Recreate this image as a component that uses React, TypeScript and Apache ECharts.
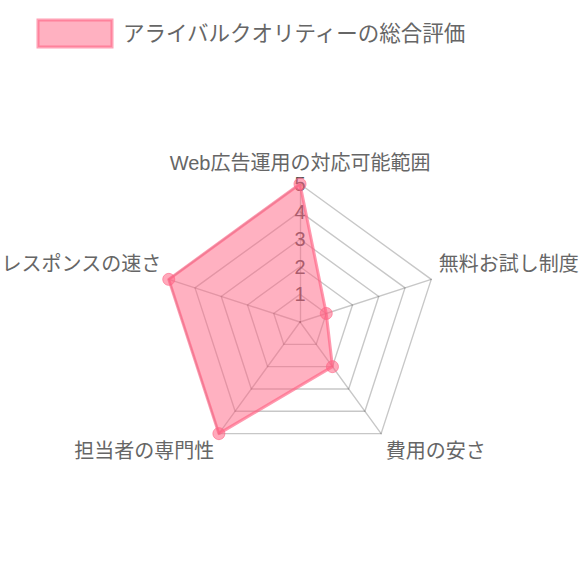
import React, { useEffect, useRef } from "react";
import * as echarts from "echarts";

const seriesName = "アライバルクオリティーの総合評価";
// counter-clockwise order starting from top (ECharts radar layout)
const indicators = [
  "Web広告運用の対応可能範囲",
  "レスポンスの速さ",
  "担当者の専門性",
  "費用の安さ",
  "無料お試し制度",
];
const values = [5, 5, 5, 2, 1];
const maxValue = 5;
const tickCount = 5;

const FONT = "'Liberation Sans', 'Noto Sans CJK JP', sans-serif";

export default function App() {
  const ref = useRef<HTMLDivElement>(null);
  useEffect(() => {
    document.body.style.margin = "0";
    if (!ref.current) return;
    const chart = echarts.init(ref.current, undefined, { renderer: "svg" });
    const styleFor = (name: string) => {
      const i = indicators.indexOf(name);
      if (i === 0) return "top";
      if (i === 1 || i === 4) return "side";
      return "bottom";
    };
    const tickLabel = {
      show: true,
      showMinLabel: false,
      hideOverlap: false,
      margin: 0,
      align: "center",
      verticalAlign: "middle",
      fontSize: 20,
      color: "#555",
      fontFamily: FONT,
      formatter: (v: number) => (v === 0 ? "" : String(v)),
    };
    chart.setOption({
      animation: false,
      textStyle: { fontFamily: FONT },
      legend: {
        data: [seriesName],
        selectedMode: false,
        left: 36.5,
        top: 18.5,
        padding: 0,
        icon: "rect",
        itemWidth: 74,
        itemHeight: 27,
        itemStyle: {
          color: "rgba(255,99,132,0.5)",
          borderColor: "rgba(255,99,132,0.6)",
          borderWidth: 3,
        },
        textStyle: {
          fontSize: 21.5,
          color: "#666",
          fontFamily: FONT,
          padding: [0, 0, 0, 6],
        },
      },
      radar: {
        center: [300, 322],
        radius: 138,
        splitNumber: tickCount,
        nameGap: 8,
        shape: "polygon",
        indicator: indicators.map((name, i) =>
          i === 0
            ? { name, max: maxValue, min: 0, axisLabel: tickLabel }
            : { name, max: maxValue, min: 0 }
        ),
        axisName: {
          color: "#666",
          fontSize: 20,
          fontFamily: FONT,
          formatter: (name: string) => `{${styleFor(name)}|${name}}`,
          rich: {
            top: { fontSize: 20, color: "#666", fontFamily: FONT, padding: [0, 0, 3, 0] },
            side: { fontSize: 20, color: "#666", fontFamily: FONT, padding: [0, 0, 26, 0] },
            bottom: { fontSize: 20, color: "#666", fontFamily: FONT, padding: [22, 0, 0, 0] },
          },
        },
        axisLine: { lineStyle: { color: "rgba(0,0,0,0.22)", width: 1.4 } },
        splitLine: { lineStyle: { color: "rgba(0,0,0,0.22)", width: 1.4 } },
        splitArea: { show: false },
        axisTick: { show: false },
        axisLabel: { ...tickLabel, show: false },
      },
      series: [
        {
          type: "radar",
          name: seriesName,
          symbol: "circle",
          symbolSize: 12,
          lineStyle: { color: "rgba(255,99,132,0.65)", width: 3 },
          itemStyle: {
            color: "rgba(255,99,132,0.55)",
            borderColor: "rgba(255,99,132,0.6)",
            borderWidth: 1,
          },
          areaStyle: { color: "rgba(255,99,132,0.5)", opacity: 1 },
          data: [{ value: values, name: seriesName }],
        },
      ],
    });
    return () => chart.dispose();
  }, []);
  return <div ref={ref} style={{ width: 580, height: 580 }} />;
}
